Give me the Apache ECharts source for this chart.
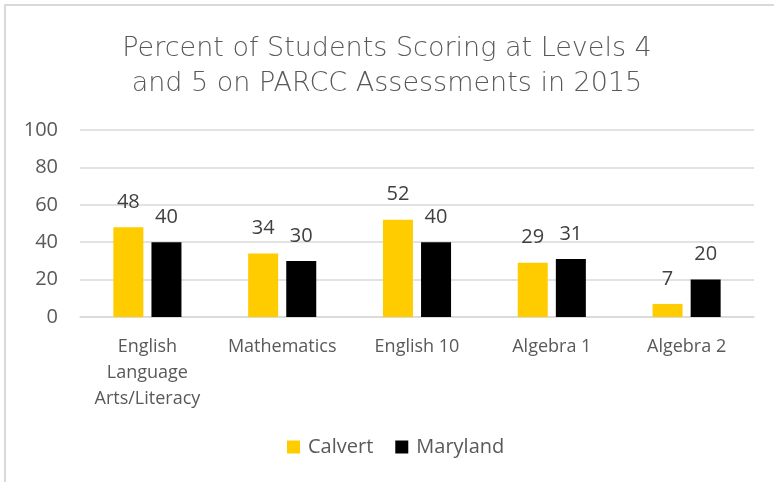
<!DOCTYPE html>
<html>
<head>
<meta charset="utf-8">
<script src="https://cdn.jsdelivr.net/npm/echarts@6/dist/echarts.min.js"></script>
<style>
html,body{margin:0;padding:0;background:#fff;}
#wrap{position:absolute;left:0;top:0;width:774px;height:482px;}
#border{position:absolute;left:4px;top:4px;width:770px;height:478px;border-left:2px solid #d9d9d9;border-top:2px solid #d9d9d9;box-sizing:border-box;pointer-events:none;}
#chart{position:absolute;left:0;top:0;width:774px;height:482px;}
</style>
</head>
<body>
<div id="wrap"><div id="chart"></div><div id="border"></div></div>
<script>
const categories = ['English\nLanguage\nArts/Literacy', 'Mathematics', 'English 10', 'Algebra 1', 'Algebra 2'];
const calvert = [48, 34, 52, 29, 7];
const maryland = [40, 30, 40, 31, 20];
const yTicks = [0, 20, 40, 60, 80, 100];

const chart = echarts.init(document.getElementById('chart'));
const labelFont = 'Open Sans';
chart.setOption({
  animation: false,
  backgroundColor: '#ffffff',
  title: {
    text: 'Percent of Students Scoring at Levels 4\nand 5 on PARCC Assessments in 2015',
    left: 'center',
    top: 26,
    textStyle: {fontFamily: 'DejaVu Sans', fontWeight: 200, fontSize: 27, color: '#595959', lineHeight: 35}
  },
  legend: {
    bottom: 20,
    left: 282,
    itemWidth: 13,
    itemHeight: 13,
    itemGap: 22,
    icon: 'rect',
    textStyle: {fontFamily: labelFont, fontSize: 20, color: '#595959', padding: [0, 0, 0, 3]},
    data: ['Calvert', 'Maryland']
  },
  grid: {left: 80, right: 20, top: 130, bottom: 165, containLabel: false},
  xAxis: {
    type: 'category',
    data: categories,
    axisLine: {show: true, lineStyle: {color: '#d9d9d9', width: 1.5}},
    axisTick: {show: false},
    axisLabel: {fontFamily: labelFont, fontSize: 18, color: '#595959', margin: 17, lineHeight: 26, interval: 0}
  },
  yAxis: {
    type: 'value',
    min: yTicks[0],
    max: yTicks[yTicks.length - 1],
    interval: 20,
    axisLine: {show: false},
    axisTick: {show: false},
    splitLine: {lineStyle: {color: '#d9d9d9', width: 1.5}},
    axisLabel: {fontFamily: labelFont, fontSize: 20, color: '#595959', margin: 22}
  },
  series: [
    {
      name: 'Calvert', type: 'bar', data: calvert,
      barWidth: 30, barGap: '27%',
      itemStyle: {color: '#ffcc00'},
      label: {show: true, position: 'top', distance: 15, fontFamily: labelFont, fontSize: 20, color: '#404040'}
    },
    {
      name: 'Maryland', type: 'bar', data: maryland,
      barWidth: 30,
      itemStyle: {color: '#000000'},
      label: {show: true, position: 'top', distance: 15, fontFamily: labelFont, fontSize: 20, color: '#404040'}
    }
  ]
});
</script>
</body>
</html>
